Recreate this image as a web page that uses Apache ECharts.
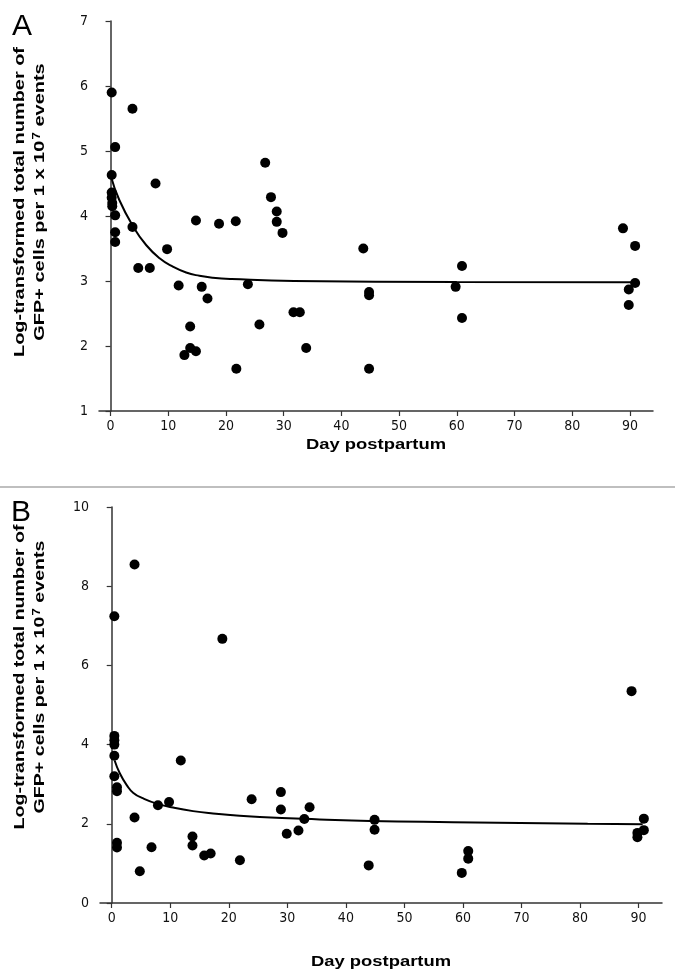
<!DOCTYPE html>
<html><head><meta charset="utf-8">
<script src="https://cdn.jsdelivr.net/npm/echarts@6/dist/echarts.min.js"></script>
<style>html,body{margin:0;padding:0;background:#fff}#c{width:675px;height:980px}</style>
</head><body><div id="c"></div>
<script>
// ---------- data ----------
const xTicks = [0, 10, 20, 30, 40, 50, 60, 70, 80, 90];
const yTicksA = [1, 2, 3, 4, 5, 6, 7];
const yTicksB = [0, 2, 4, 6, 8, 10];

const dayA = [0.2, 3.8, 0.8, 0.2, 0.2, 0.2, 0.3, 0.3, 0.8, 0.8, 0.8, 3.8, 7.8, 9.8, 4.8, 6.8, 11.8, 14.8, 13.8, 13.8, 12.8, 14.8, 15.8, 16.8, 18.8, 21.7, 21.8, 23.8, 25.8, 26.8, 27.8, 28.8, 28.8, 29.8, 31.7, 32.8, 33.9, 43.8, 44.8, 44.8, 44.8, 59.8, 60.9, 60.9, 88.8, 90.9, 90.9, 89.8, 89.8];
const valA = [5.9, 5.65, 5.06, 4.63, 4.36, 4.28, 4.2, 4.15, 4.01, 3.75, 3.6, 3.83, 4.5, 3.49, 3.2, 3.2, 2.93, 3.93, 2.3, 1.97, 1.86, 1.92, 2.91, 2.73, 3.88, 3.92, 1.65, 2.95, 2.33, 4.82, 4.29, 4.07, 3.91, 3.74, 2.52, 2.52, 1.97, 3.5, 2.83, 2.78, 1.65, 2.91, 3.23, 2.43, 3.81, 3.54, 2.97, 2.87, 2.63];
const curveDayA = [0.1, 1.5, 3.9, 6.2, 8.5, 10.8, 13.1, 15.4, 17.7, 21, 31.8, 60, 90.7];
const curveValA = [4.6, 4.25, 3.84, 3.55, 3.35, 3.22, 3.13, 3.08, 3.05, 3.03, 3.0, 2.985, 2.98];

const dayB = [3.9, 0.45, 18.9, 0.45, 0.45, 0.45, 0.45, 0.45, 0.9, 0.9, 0.9, 0.9, 3.9, 4.8, 6.8, 7.9, 9.8, 11.8, 13.8, 13.8, 15.8, 16.9, 21.9, 23.9, 28.9, 28.9, 29.9, 31.9, 32.9, 33.8, 43.9, 44.9, 44.9, 59.8, 60.9, 60.9, 88.8, 90.9, 90.9, 89.8, 89.8];
const valB = [8.55, 7.24, 6.67, 4.22, 4.11, 4.0, 3.72, 3.2, 2.92, 2.82, 1.52, 1.4, 2.16, 0.8, 1.41, 2.47, 2.55, 3.6, 1.68, 1.45, 1.2, 1.25, 1.08, 2.62, 2.8, 2.36, 1.75, 1.83, 2.12, 2.42, 0.95, 2.1, 1.85, 0.76, 1.31, 1.12, 5.35, 2.13, 1.84, 1.77, 1.66];
const curveDayB = [0.5, 1.4, 2.6, 3.7, 5.4, 7.7, 10.5, 13.9, 17.3, 21.3, 25.3, 35.5, 44.1, 58.3, 81.3, 90.7];
const curveValB = [3.6, 3.27, 2.97, 2.78, 2.64, 2.51, 2.41, 2.32, 2.26, 2.21, 2.17, 2.11, 2.07, 2.04, 2.0, 1.99];

const yTitle1 = 'Log-transformed total number of';
const xTitle = 'Day postpartum';

// ---------- helpers ----------
const zip = (a, b) => a.map((v, i) => [v, b[i]]);
const tickFont = '"Liberation Sans Narrow", "DejaVu Sans Condensed", "Liberation Sans", sans-serif';
const titleFamily = '"Liberation Sans", Arial, sans-serif';
const titleSize = 15;
const mc = document.createElement('canvas').getContext('2d');
function textW(t, font) { mc.font = font; return mc.measureText(t).width; }
const tFont = 'bold ' + titleSize + 'px ' + titleFamily;

function xAxisCfg(gi) {
  return {
    gridIndex: gi, type: 'value', min: -2, max: 94,
    axisLine: { show: true, lineStyle: { color: '#333', width: 1.5 } },
    axisTick: { show: true, customValues: xTicks, length: 5, inside: false, lineStyle: { color: '#333', width: 1.2 } },
    axisLabel: { customValues: xTicks, color: '#111', fontSize: 14, fontFamily: tickFont, margin: 8 },
    splitLine: { show: false }
  };
}
function yAxisCfg(gi, ticks) {
  return {
    gridIndex: gi, type: 'value', min: ticks[0], max: ticks[ticks.length - 1], interval: ticks[1] - ticks[0],
    axisLine: { show: true, lineStyle: { color: '#333', width: 1.5 } },
    axisTick: { show: true, length: 5, lineStyle: { color: '#333', width: 1.2 } },
    axisLabel: { color: '#111', fontSize: 14, fontFamily: tickFont, margin: 11 },
    splitLine: { show: false }
  };
}

function yTitleGraphics(cx1, cx2, cy, len1) {
  const s = len1 / textW(yTitle1, tFont);
  const base = { fill: '#000', font: tFont, align: 'center', verticalAlign: 'middle' };
  return [
    { type: 'text', x: cx1, y: cy, rotation: Math.PI / 2, scaleX: s, style: Object.assign({ text: yTitle1 }, base) },
    { type: 'text', x: cx2, y: cy, rotation: Math.PI / 2, scaleX: s,
      style: Object.assign({}, base, {
        text: '{a|GFP+ cells per 1 x 10}{s|7}{a| events}',
        rich: { a: { font: tFont, fill: '#000' }, s: { font: 'bold 10px ' + titleFamily, fill: '#000', verticalAlign: 'top', padding: [0, 0, 0, 1] } }
      }) }
  ];
}
function xTitleGraphic(cx, cy, len) {
  const s = len / textW(xTitle, tFont);
  return { type: 'text', x: cx, y: cy, scaleX: s, style: { text: xTitle, fill: '#000', font: tFont, align: 'center', verticalAlign: 'middle' } };
}

const chart = echarts.init(document.getElementById('c'), null, { renderer: 'canvas' });
chart.setOption({
  backgroundColor: '#fff',
  animation: false,
  grid: [
    { left: 99, top: 21, width: 554, height: 390 },
    { left: 100, top: 507, width: 562, height: 396 }
  ],
  xAxis: [xAxisCfg(0), xAxisCfg(1)],
  yAxis: [yAxisCfg(0, yTicksA), yAxisCfg(1, yTicksB)],
  series: [
    { type: 'scatter', xAxisIndex: 0, yAxisIndex: 0, data: zip(dayA, valA), symbol: 'circle', symbolSize: 10, itemStyle: { color: '#000', opacity: 1 }, z: 3 },
    { type: 'line', xAxisIndex: 0, yAxisIndex: 0, data: zip(curveDayA, curveValA), showSymbol: false, smooth: 0.5, lineStyle: { color: '#000', width: 2 }, z: 2 },
    { type: 'scatter', xAxisIndex: 1, yAxisIndex: 1, data: zip(dayB, valB), symbol: 'circle', symbolSize: 10, itemStyle: { color: '#000', opacity: 1 }, z: 3 },
    { type: 'line', xAxisIndex: 1, yAxisIndex: 1, data: zip(curveDayB, curveValB), showSymbol: false, smooth: 0.5, lineStyle: { color: '#000', width: 2 }, z: 2 }
  ],
  graphic: [
    { type: 'text', x: 22, y: 27, style: { text: 'A', fill: '#000', font: '30px ' + titleFamily, align: 'center', verticalAlign: 'middle' } },
    { type: 'text', x: 21, y: 513, style: { text: 'B', fill: '#000', font: '30px ' + titleFamily, align: 'center', verticalAlign: 'middle' } },
    { type: 'line', shape: { x1: 0, y1: 487, x2: 675, y2: 487 }, style: { stroke: '#aaa', lineWidth: 1.5 } },
    xTitleGraphic(376, 445, 140),
    xTitleGraphic(381, 962, 140)
  ].concat(yTitleGraphics(20, 40, 202, 310), yTitleGraphics(20, 40, 677, 305))
});
</script></body></html>
